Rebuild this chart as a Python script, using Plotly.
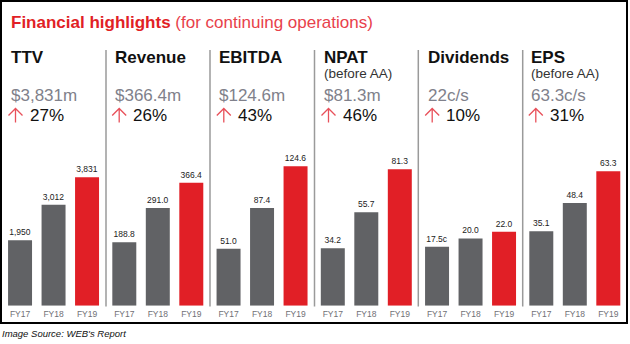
import plotly.graph_objects as go

W, H = 630, 344

years = ["FY17", "FY18", "FY19"]
metrics = ["TTV", "Revenue", "EBITDA", "NPAT", "Dividends", "EPS"]
subtitles = ["", "", "", "(before AA)", "", "(before AA)"]
headline = ["$3,831m", "$366.4m", "$124.6m", "$81.3m", "22c/s", "63.3c/s"]
growth = ["27%", "26%", "43%", "46%", "10%", "31%"]

ttv = [1950, 3012, 3831]
revenue = [188.8, 291.0, 366.4]
ebitda = [51.0, 87.4, 124.6]
npat = [34.2, 55.7, 81.3]
dividends = [17.5, 20.0, 22.0]
eps = [35.1, 48.4, 63.3]
series = [ttv, revenue, ebitda, npat, dividends, eps]

labels = [
    ["1,950", "3,012", "3,831"],
    ["188.8", "291.0", "366.4"],
    ["51.0", "87.4", "124.6"],
    ["34.2", "55.7", "81.3"],
    ["17.5c", "20.0", "22.0"],
    ["35.1", "48.4", "63.3"],
]

# layout-only: axis maximum for each panel (independent scales)
axis_max = [4645, 464, 139.2, 92.8, 46.3, 73.3]

GREY = "#616265"
RED = "#e11f26"
colors = [GREY, GREY, RED]

def px(x):
    return x / W

def py(y):
    return 1 - y / H

fig = go.Figure()

panel_w = 100.5
panel_starts = [3.3 + 104.25 * i for i in range(6)]
y_bottom, y_top = 305.7, 150.0

for i in range(6):
    ax = "" if i == 0 else str(i + 1)
    fig.add_trace(go.Bar(
        x=years, y=series[i], text=labels[i],
        textposition="outside", cliponaxis=False, constraintext="none",
        textfont=dict(size=8.5, color="#222222", family="Liberation Sans"),
        marker=dict(color=colors, line=dict(width=0)),
        xaxis="x" + ax, yaxis="y" + ax, showlegend=False, hoverinfo="skip",
    ))
    x0 = panel_starts[i]
    fig.layout["xaxis" + ax] = dict(
        domain=[px(x0), px(x0 + panel_w)], anchor="y" + ax,
        showgrid=False, zeroline=False, showline=False, ticks="",
        ticklabelstandoff=2,
        tickfont=dict(size=8.5, color="#707075", family="Liberation Sans"),
        fixedrange=True,
    )
    fig.layout["yaxis" + ax] = dict(
        domain=[py(y_bottom), py(y_top)], anchor="x" + ax,
        range=[0, axis_max[i]], visible=False, fixedrange=True,
    )

fig.update_layout(bargap=0.284)

annotations = []
annotations.append(dict(
    x=px(8.5), y=py(22.5), xref="paper", yref="paper", xanchor="left", yanchor="middle",
    text="<b>Financial highlights</b> <span style='color:#e8414b'>(for continuing operations)</span>",
    font=dict(size=17, color="#e11f26", family="Liberation Sans"), showarrow=False,
))

shapes = []
text_left = [9, 112.7, 217.3, 322, 425.7, 529.3]
for i in range(6):
    L = text_left[i]
    xl = px(L)
    annotations.append(dict(x=xl, y=py(57.3), xref="paper", yref="paper", xanchor="left",
                            yanchor="middle", text="<b>%s</b>" % metrics[i], showarrow=False,
                            font=dict(size=17, color="#111111", family="Liberation Sans")))
    if subtitles[i]:
        annotations.append(dict(x=xl, y=py(73.5), xref="paper", yref="paper", xanchor="left",
                                yanchor="middle", text=subtitles[i], showarrow=False,
                                font=dict(size=13.5, color="#333333", family="Liberation Sans")))
    annotations.append(dict(x=xl, y=py(95.3), xref="paper", yref="paper", xanchor="left",
                            yanchor="middle", text=headline[i], showarrow=False,
                            font=dict(size=17, color="#80818b", family="Liberation Sans")))
    annotations.append(dict(x=px(L + 18.5), y=py(115.8), xref="paper", yref="paper", xanchor="left",
                            yanchor="middle", text=growth[i], showarrow=False,
                            font=dict(size=17, color="#111111", family="Liberation Sans")))
    # thin up-arrow glyph
    cx, top, bot = L + 6.5, 108.5, 122.5
    path = "M %f,%f L %f,%f M %f,%f L %f,%f L %f,%f" % (
        px(cx), py(bot), px(cx), py(top),
        px(cx - 7), py(top + 7), px(cx), py(top), px(cx + 7), py(top + 7))
    shapes.append(dict(type="path", xref="paper", yref="paper", path=path,
                       line=dict(color="#e8505a", width=1.3)))

annotations.append(dict(x=0, y=py(333), xref="paper", yref="paper", xanchor="left",
                        yanchor="middle", text="<i>Image Source: WEB's Report</i>", showarrow=False,
                        font=dict(size=9.5, color="#111111", family="Liberation Sans")))

for sx in [106, 210, 314.5, 418.3, 522.7]:
    shapes.append(dict(type="line", xref="paper", yref="paper", x0=px(sx), x1=px(sx),
                       y0=py(50), y1=py(306.5), line=dict(color="#9a9a9a", width=1.5)))
shapes.append(dict(type="rect", xref="paper", yref="paper", x0=px(1), x1=px(627),
                   y0=py(323), y1=py(1), line=dict(color="#000000", width=2)))

fig.update_layout(
    width=W, height=H, margin=dict(l=0, r=0, t=0, b=0),
    paper_bgcolor="white", plot_bgcolor="white",
    annotations=annotations, shapes=shapes,
)

fig.write_html("out.html", config={"displayModeBar": False})
